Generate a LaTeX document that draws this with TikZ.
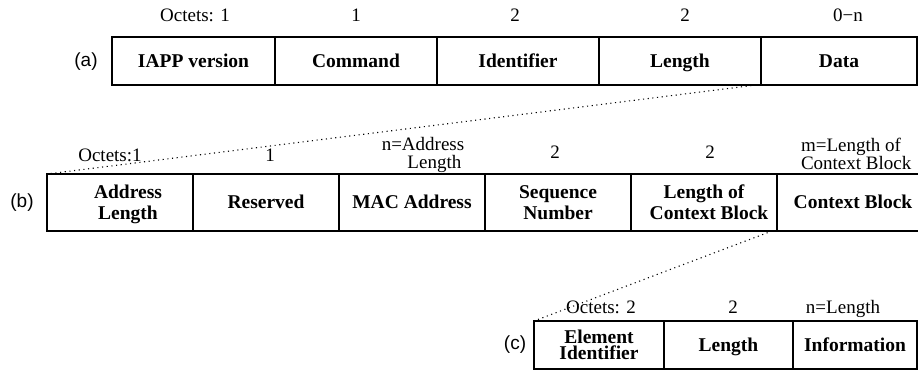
\documentclass[tikz,border=0pt]{standalone}
\usepackage{fontspec}
\setmainfont{Liberation Serif}
\newfontfamily\tagfont{Liberation Sans}
\begin{document}
\begin{tikzpicture}[x=1pt,y=-1pt,
  every node/.style={inner sep=0pt, outer sep=0pt},
  cell/.style={draw, line width=1.2pt, anchor=west, align=center,
    text height=13.5pt, text depth=1.5pt,
    font=\fontsize{19.5}{21}\selectfont\bfseries},
  twoline/.style={text height=34.5pt},
  octet/.style={align=center, anchor=base, font=\fontsize{19}{18}\selectfont},
  rowtag/.style={font=\fontsize{19}{21}\selectfont\tagfont},
  zoomline/.style={line width=1.1pt, dash pattern=on 1.1pt off 3.6pt}]
\useasboundingbox (0,0) rectangle (918,370);

% ---- (a) IAPP packet
\node[rowtag] (ta) at (86,62) {(a)};
\begin{scope}[every node/.append style={minimum height=48pt}]
\node[cell, minimum width=163pt] (a1) at (112,61) {IAPP version};
\node[cell, minimum width=162pt] (a2) at (275,61) {Command};
\node[cell, minimum width=162pt] (a3) at (437,61) {Identifier};
\node[cell, minimum width=162pt] (a4) at (599,61) {Length};
\node[cell, minimum width=156pt] (a5) at (761,61) {Data};
\end{scope}
\node[octet] (oa1) at (195,21) {Octets: 1};
\node[octet] (oa2) at (356,21) {1};
\node[octet] (oa3) at (515,21) {2};
\node[octet] (oa4) at (685,21) {2};
\node[octet] (oa5) at (848,21) {0−n};

% ---- (b) data field
\node[rowtag] (tb) at (22,203) {(b)};
\begin{scope}[every node/.append style={minimum height=57pt}]
\node[cell, twoline, minimum width=146pt] (b1) at (47,202.5) {\hspace*{16pt}Address\\\hspace*{16pt}Length};
\node[cell, minimum width=146pt] (b2) at (193,202.5) {Reserved};
\node[cell, minimum width=146pt] (b3) at (339,202.5) {MAC Address};
\node[cell, twoline, minimum width=146pt] (b4) at (485,202.5) {Sequence\\Number};
\node[cell, twoline, minimum width=146pt] (b5) at (631,202.5) {Length of\\Context Block\hspace*{-10pt}};
\node[cell, minimum width=142pt] (b6) at (777,202.5) {\hspace*{10pt}Context Block};
\end{scope}
\node[octet] (ob1) at (110,161) {Octets:1};
\node[octet] (ob2) at (270,161) {1};
\node[octet] (ob3) at (423,168) {n=Address\\\hspace*{1.2em}Length};
\node[octet] (ob4) at (555,158) {2};
\node[octet] (ob5) at (710,158) {2};
\node[octet, align=left, anchor=base west] (ob6) at (801,169) {m=Length of\\Context Block};

% ---- (c) context block element
\node[rowtag] (tc) at (515,345) {(c)};
\begin{scope}[every node/.append style={minimum height=48pt}]
\node[cell, text height=29.5pt, minimum width=130pt, font=\fontsize{19.5}{16}\selectfont\bfseries] (c1) at (534,345) {Element\\Identifier};
\node[cell, minimum width=129pt] (c2) at (664,345) {Length};
\node[cell, minimum width=124pt] (c3) at (793,345) {Information};
\end{scope}
\node[octet] (oc1) at (601,313) {Octets: 2};
\node[octet] (oc2) at (733,313) {2};
\node[octet] (oc3) at (843,313) {n=Length};

% ---- expansion lines
\draw[zoomline] ([xshift=-5pt]a5.south west) -- (b1.north west);
\draw[zoomline] ([xshift=-5pt]b6.south west) -- (c1.north west);
\end{tikzpicture}
\end{document}
